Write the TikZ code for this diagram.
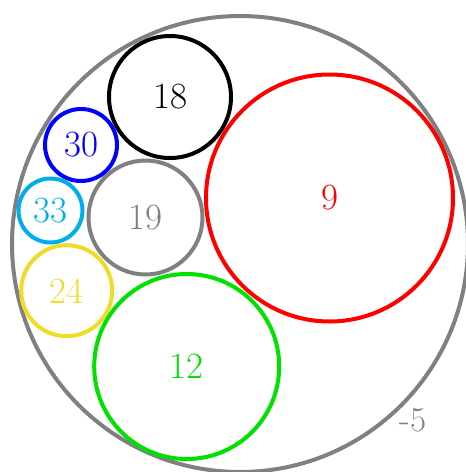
\documentclass[tikz,border=0pt]{standalone}
\usetikzlibrary{shapes.geometric}
\definecolor{cgray}{RGB}{128,128,128}
\definecolor{cred}{RGB}{255,0,0}
\definecolor{cblue}{RGB}{0,0,255}
\definecolor{ccyan}{RGB}{0,174,239}
\definecolor{cyellow}{RGB}{238,220,40}
\definecolor{cgreen}{RGB}{0,225,0}
\begin{document}
\begin{tikzpicture}[x=1pt,y=-1pt,
  ring/.style={circle,draw,line width=4pt,inner sep=0pt,outer sep=0pt,
    font=\fontsize{37}{37}\selectfont},
  lbl/.style={inner sep=0pt,font=\fontsize{35}{35}\selectfont}]
\useasboundingbox (0,0) rectangle (466,472);
\begin{scope}
\clip (0,0) rectangle (466,472);
\node[ring,draw=cgray,minimum size=456pt] (outer) at (240,244) {};
\end{scope}
\node[ring,draw=black,text=black,minimum size=122pt] (c18) at (170,97) {18};
\node[ring,draw=cblue,text=cblue,minimum size=72pt] (c30) at (81,145) {30};
\node[ring,draw=ccyan,text=ccyan,minimum size=64pt] (c33) at (50.5,210.5) {33};
\node[ring,draw=cgray,text=cgray,minimum size=114pt] (c19) at (145.5,217.5) {19};
\node[ring,draw=cred,text=cred,minimum size=247pt] (c9) at (329.5,198) {9};
\node[ring,draw=cyellow,text=cyellow,minimum size=91pt] (c24) at (66.7,290.7) {24};
\node[ring,draw=cgreen,text=cgreen,minimum size=185pt] (c12) at (186.7,366.5) {12};
\node[lbl,text=cgray] (m5) at (413,420) {-5};
\end{tikzpicture}
\end{document}
